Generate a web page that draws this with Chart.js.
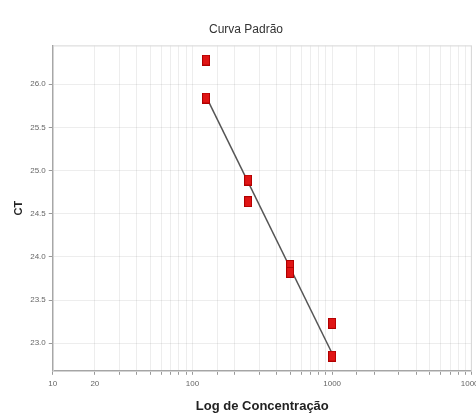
<!DOCTYPE html>
<html>
<head>
<meta charset="utf-8">
<script src="https://cdn.jsdelivr.net/npm/chart.js@4/dist/chart.umd.min.js"></script>
<style>
  html, body { margin: 0; padding: 0; background: #fff; }
  #wrap { width: 476px; height: 419px; position: relative; overflow: hidden; }
</style>
</head>
<body>
<div id="wrap"><canvas id="c" width="487" height="419"></canvas></div>
<script>
// ------- data -------
const concentration = [125, 125, 250, 250, 500, 500, 1000, 1000];
const ctValues      = [26.28, 25.84, 24.89, 24.64, 23.90, 23.82, 23.23, 22.85];
const fitX = [125, 1000];
const fitY = [25.86, 22.88];
const xTickLabels = [10, 20, 100, 1000, 10000];

const FONT = "'Liberation Sans Narrow', 'Liberation Sans', Arial, sans-serif";

// tall red rectangle marker
function makeMarker() {
  const m = document.createElement('canvas');
  m.width = 8; m.height = 11;
  const g = m.getContext('2d');
  g.fillStyle = '#e01515';
  g.fillRect(0, 0, 8, 11);
  g.strokeStyle = '#b00000';
  g.lineWidth = 1;
  g.strokeRect(0.5, 0.5, 7, 10);
  return m;
}

// light frame around the plot (top/right edges)
const frame = {
  id: 'frame',
  beforeDatasetsDraw(chart) {
    const { ctx, chartArea: a } = chart;
    ctx.save();
    ctx.strokeStyle = '#d6d6d6';
    ctx.lineWidth = 1;
    ctx.strokeRect(a.left + 0.5, a.top + 0.5, a.right - a.left - 1, a.bottom - a.top);
    ctx.restore();
  }
};

const pts = concentration.map((x, i) => ({ x, y: ctValues[i] }));
const fit = fitX.map((x, i) => ({ x, y: fitY[i] }));

new Chart(document.getElementById('c'), {
  type: 'scatter',
  data: {
    datasets: [
      { data: fit, showLine: true, borderColor: '#555', borderWidth: 1.5, pointRadius: 0, order: 2 },
      { data: pts, pointStyle: makeMarker(), pointRadius: 5, order: 1 }
    ]
  },
  options: {
    responsive: false, animation: false,
    layout: { padding: { left: 8, right: 3, top: 14, bottom: 1 } },
    plugins: {
      legend: { display: false }, tooltip: { enabled: false },
      title: { display: true, text: 'Curva Padrão', color: '#333',
               font: { family: FONT, size: 12, weight: 'normal' }, padding: { top: 8, bottom: 9 } }
    },
    scales: {
      x: {
        type: 'logarithmic', min: 10, max: 10000,
        grid: { color: 'rgba(0,0,0,0.07)', tickLength: 4, drawTicks: true, tickColor: '#999' },
        border: { color: '#999', width: 1.5 },
        ticks: {
          autoSkip: false, maxRotation: 0, color: '#666', padding: 4,
          font: { family: FONT, size: 8 },
          callback: v => xTickLabels.includes(v) ? String(v) : ''
        },
        title: { display: true, text: 'Log de Concentração', color: '#222',
                 font: { family: FONT, size: 13, weight: 'bold' }, padding: { top: 6 } }
      },
      y: {
        min: 22.68, max: 26.45,
        grid: { color: 'rgba(0,0,0,0.07)', tickLength: 4, tickColor: '#999' },
        border: { color: '#999', width: 1.5 },
        ticks: { stepSize: 0.5, includeBounds: false, color: '#666', padding: 3,
                 font: { family: FONT, size: 8 }, callback: v => v.toFixed(1) },
        title: { display: true, text: 'CT', color: '#222',
                 font: { family: FONT, size: 11, weight: 'bold' }, padding: { bottom: 2 } }
      }
    }
  },
  plugins: [frame]
});
</script>
</body>
</html>
